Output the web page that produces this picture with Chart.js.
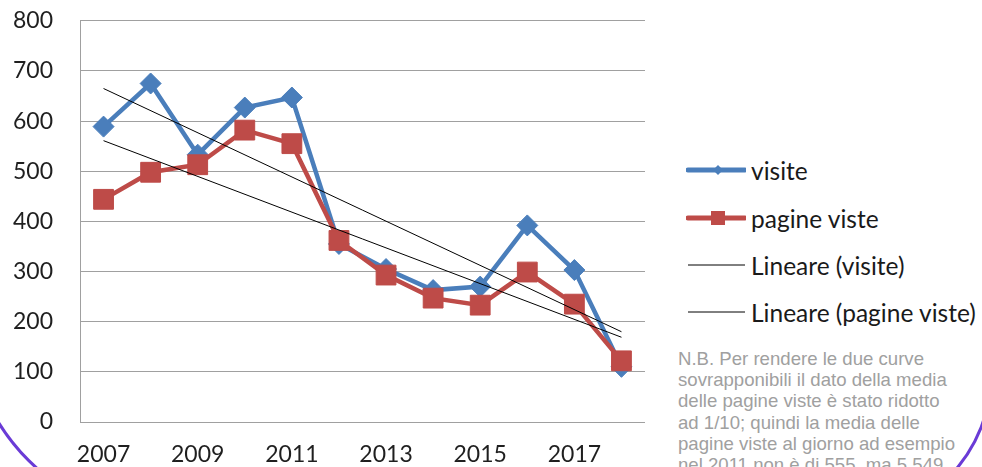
<!DOCTYPE html>
<html><head><meta charset="utf-8">
<script src="https://cdn.jsdelivr.net/npm/chart.js@4.4.0/dist/chart.umd.min.js"></script>
<style>
html,body{margin:0;padding:0;width:982px;height:467px;overflow:hidden;background:#fff;}
#wrap{position:relative;width:982px;height:467px;overflow:hidden;}
#chartBox{position:absolute;left:0;top:-20px;width:660px;height:487px;}
#legend{position:absolute;left:686px;top:0;font-family:Lato,sans-serif;font-size:24.5px;color:#1a1a1a;}
.item{position:absolute;left:0;white-space:nowrap;display:flex;align-items:center;height:30px;}
.item svg{display:block;margin-right:5px;}
.note{position:absolute;left:678px;top:348px;font-family:'Liberation Sans',Arial,sans-serif;font-size:18.6px;line-height:21.2px;color:#a0a0a0;white-space:nowrap;}
.frame{position:absolute;left:-34px;top:-300px;width:1027px;height:823px;box-sizing:border-box;border:3px solid #6a3bd6;border-bottom-left-radius:210px;border-bottom-right-radius:150px;pointer-events:none;}
</style>
</head><body>
<div id="wrap">
  <div id="chartBox"><canvas id="c" width="660" height="487"></canvas></div>
  <div id="legend"></div>
  <div class="note">N.B. Per rendere le due curve<br>sovrapponibili il dato della media<br>delle pagine viste è stato ridotto<br>ad 1/10; quindi la media delle<br>pagine viste al giorno ad esempio<br>nel 2011 non è di 555, ma 5.549</div>
  <div class="frame"></div>
</div>
<script>
// ---- data ----
const years = ['2007','2008','2009','2010','2011','2012','2013','2014','2015','2016','2017','2018'];
const shownYearLabels = ['2007','2009','2011','2013','2015','2017'];
const visite = [589, 675, 533, 627, 647, 355, 305, 263, 270, 392, 303, 110];
const pagineViste = [444, 498, 513, 582, 555, 362, 293, 247, 233, 299, 235, 122];
// trend lines (start and end values)
const lineareVisite = [665, null, null, null, null, null, null, null, null, null, null, 180];
const linearePagineViste = [561, null, null, null, null, null, null, null, null, null, null, 169];
const seriesNames = ['visite', 'pagine viste', 'Lineare (visite)', 'Lineare (pagine viste)'];
const yMin = 0, yMax = 800, yStep = 100;

const BLUE = '#4A7EBB', RED = '#BE4B48';
const tickFont = {family: 'Lato', size: 23};

new Chart(document.getElementById('c'), {
  type: 'line',
  data: {
    labels: years,
    datasets: [
      {label: seriesNames[2], data: lineareVisite, borderColor: '#000', borderWidth: 1, pointRadius: 0, spanGaps: true, order: 0},
      {label: seriesNames[3], data: linearePagineViste, borderColor: '#000', borderWidth: 1, pointRadius: 0, spanGaps: true, order: 0},
      {label: seriesNames[1], data: pagineViste, borderColor: RED, backgroundColor: RED, borderWidth: 4.5,
       pointStyle: 'rect', pointRadius: 14, pointBackgroundColor: RED, pointBorderColor: RED, pointBorderWidth: 1, order: 1},
      {label: seriesNames[0], data: visite, borderColor: BLUE, backgroundColor: BLUE, borderWidth: 4.5,
       pointStyle: 'rectRot', pointRadius: 10.5, pointBackgroundColor: BLUE, pointBorderColor: BLUE, pointBorderWidth: 1, order: 2}
    ]
  },
  options: {
    responsive: false,
    devicePixelRatio: 1,
    animation: false,
    layout: {padding: {left: 0, right: 15, top: 0, bottom: 0}},
    plugins: {legend: {display: false}, tooltip: {enabled: false}},
    scales: {
      x: {
        offset: true,
        grid: {display: false, drawTicks: false},
        border: {display: false},
        ticks: {autoSkip: false, maxRotation: 0, padding: 19, font: tickFont, color: '#1f1f1f',
          callback: function(v, i) { const l = years[i]; return shownYearLabels.includes(l) ? l : ''; }},
        afterFit: function(s) { s.height = 45; }
      },
      y: {
        min: yMin, max: yMax,
        ticks: {stepSize: yStep, padding: 27, font: tickFont, color: '#1f1f1f'},
        grid: {color: '#a0a0a0', lineWidth: 1, drawTicks: false},
        border: {color: '#a0a0a0', width: 1},
        afterFit: function(s) { s.width = 80; }
      }
    }
  }
});

// ---- legend (HTML) ----
const legendItems = [
  {name: seriesNames[0], color: BLUE, w: 5, marker: 'diamond', cy: 170},
  {name: seriesNames[1], color: RED, w: 5, marker: 'square', cy: 218},
  {name: seriesNames[2], color: '#000', w: 1, marker: null, cy: 265},
  {name: seriesNames[3], color: '#000', w: 1, marker: null, cy: 312}
];
const lg = document.getElementById('legend');
legendItems.forEach(it => {
  const d = document.createElement('div');
  d.className = 'item';
  d.style.top = (it.cy - 15) + 'px';
  let m = '';
  if (it.marker === 'diamond') m = `<polygon points="32,10 37,15 32,20 27,15" fill="${it.color}"/>`;
  if (it.marker === 'square') m = `<rect x="25" y="8" width="14" height="14" fill="${it.color}"/>`;
  d.innerHTML = `<svg width="60" height="30"><line x1="2" y1="15" x2="59" y2="15" stroke="${it.color}" stroke-width="${it.w}" stroke-linecap="${it.w > 1 ? 'round' : 'butt'}"/>${m}</svg><span>${it.name}</span>`;
  lg.appendChild(d);
});
</script>
</body></html>
